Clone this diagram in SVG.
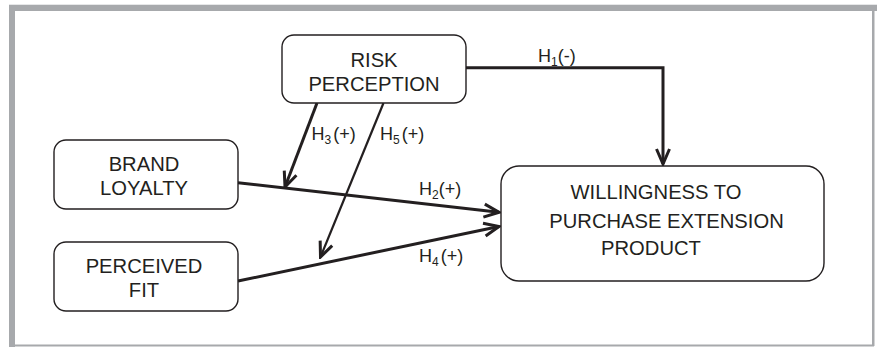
<svg xmlns="http://www.w3.org/2000/svg" width="877" height="347" viewBox="0 0 877 347">
<style>
.box{fill:#fff;stroke:#231f20;stroke-width:1.4}
.t{font-family:"Liberation Sans",Arial,sans-serif;font-size:20.2px;fill:#231f20;text-anchor:middle}
.l{font-family:"Liberation Sans",Arial,sans-serif;font-size:18px;fill:#231f20}
.sub{font-size:12px}
.c{fill:none;stroke:#231f20;stroke-width:3}
.thin{stroke-width:2.2}
</style>
<defs>
<marker id="ah" markerUnits="userSpaceOnUse" viewBox="-17 -9 19 18" refX="0" refY="0" markerWidth="19" markerHeight="18" orient="auto">
<path d="M-15,-6.5 L0,0 L-15,6.5" fill="none" stroke="#231f20" stroke-width="3"/>
</marker>
</defs>
<rect x="0" y="0" width="877" height="347" fill="#fff"/>
<g id="frame">
<rect x="9" y="4" width="868" height="1" fill="#e6e7e8"/>
<rect x="9" y="5" width="868" height="6" fill="#a7a9ac"/>
<rect x="9" y="5" width="6" height="342" fill="#a7a9ac"/>
<rect x="872" y="10" width="2.5" height="336" fill="#a7a9ac"/>
<rect x="14" y="344.5" width="860" height="2" fill="#a7a9ac"/>
</g>
<g id="connectors">
<path class="c" d="M466,67.7 H663 V164" marker-end="url(#ah)"/>
<path class="c" d="M317,103 L285,187" marker-end="url(#ah)"/>
<path class="c thin" d="M383.5,103 L320.5,257" marker-end="url(#ah)"/>
<path class="c" d="M238,182.7 L499,212.3" marker-end="url(#ah)"/>
<path class="c" d="M238,281 L499,226.5" marker-end="url(#ah)"/>
</g>
<g id="labels">
<text class="l" x="538" y="61.7">H<tspan class="sub" dy="4">1</tspan><tspan dy="-4">(-)</tspan></text>
<text class="l" x="311.5" y="140">H<tspan class="sub" dy="4">3</tspan><tspan dy="-4" dx="2">(+)</tspan></text>
<text class="l" x="380" y="140">H<tspan class="sub" dy="4">5</tspan><tspan dy="-4" dx="2">(+)</tspan></text>
<text class="l" x="419" y="195">H<tspan class="sub" dy="4">2</tspan><tspan dy="-4">(+)</tspan></text>
<text class="l" x="419" y="261.7">H<tspan class="sub" dy="4">4</tspan><tspan dy="-4" dx="2">(+)</tspan></text>
</g>
<g id="risk">
<rect class="box" x="282" y="35" width="184" height="68" rx="12"/>
<text class="t" x="374" y="66.7">RISK</text>
<text class="t" x="374" y="91">PERCEPTION</text>
</g>
<g id="brand">
<rect class="box" x="54" y="140" width="184" height="69" rx="12"/>
<text class="t" x="144" y="171">BRAND</text>
<text class="t" x="144" y="195">LOYALTY</text>
</g>
<g id="fit">
<rect class="box" x="54" y="242" width="184" height="69" rx="12"/>
<text class="t" x="144" y="273.3">PERCEIVED</text>
<text class="t" x="144" y="296.7">FIT</text>
</g>
<g id="willingness">
<rect class="box" x="501" y="166" width="323" height="115" rx="18"/>
<text class="t" x="656" y="199.3">WILLINGNESS TO</text>
<text class="t" x="666.5" y="227.7">PURCHASE EXTENSION</text>
<text class="t" x="651" y="255">PRODUCT</text>
</g>
</svg>
